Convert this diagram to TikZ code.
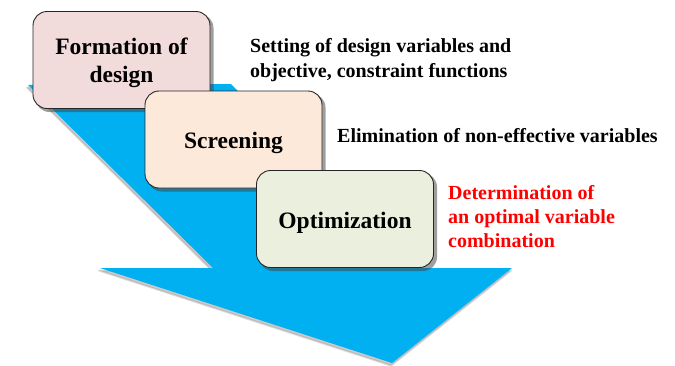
\documentclass[tikz,border=0pt]{standalone}
\usepackage{fontspec}
\setmainfont{LiberationSerif}[Extension=.ttf, UprightFont=*-Regular, BoldFont=*-Bold, ItalicFont=*-Italic, BoldItalicFont=*-BoldItalic]
\definecolor{arrowblue}{RGB}{0,176,240}
\definecolor{fillA}{RGB}{242,220,219}
\definecolor{fillB}{RGB}{253,233,217}
\definecolor{fillC}{RGB}{235,239,222}
\definecolor{notered}{RGB}{255,0,0}
\newcommand\myarrowpoly{(28,85) -- (231,84) -- (415,268) -- (512,268) -- (392,363) -- (100,268) -- (213,268) -- cycle}
\tikzset{
  stagebox/.style={rectangle, rounded corners=14pt, draw=black!85, line width=0.9pt,
    minimum width=177pt, minimum height=97pt, inner sep=0pt},
  boxshadow/.style={rectangle, rounded corners=14pt, fill=black!75, opacity=0.5, draw=none,
    minimum width=178pt, minimum height=98pt, inner sep=0pt},
  boxtext/.style={font=\fontsize{23.5}{28}\selectfont\bfseries, anchor=base, inner sep=0pt},
  notetext/.style={font=\fontsize{20}{24}\selectfont\bfseries, anchor=base west, inner sep=0pt},
}
\begin{document}
\begin{tikzpicture}[x=1pt,y=-1pt]
\useasboundingbox[fill=white] (0,0) rectangle (675,365);
% arrow shadow
\fill[black!40, opacity=0.5, xshift=-1pt, yshift=-2.5pt] \myarrowpoly;
\draw[black!40, opacity=0.35, line width=2pt, line join=round, xshift=-1pt, yshift=-2.5pt] \myarrowpoly;
% arrow
\fill[arrowblue] \myarrowpoly;
% box 1
\node[boxshadow] (s1) at (124.5,63) {};
\node[stagebox, fill=fillA] (b1) at (121.5,60) {};
\node[boxtext] (t1a) at (121.5,54) {Formation of};
\node[boxtext] (t1b) at (121.5,82) {design};
% box 2
\node[boxshadow] (s2) at (236.5,142.5) {};
\node[stagebox, fill=fillB] (b2) at (233.5,139.5) {};
\node[boxtext] (t2) at (233.5,148) {Screening};
% box 3
\node[boxshadow] (s3) at (348,222) {};
\node[stagebox, fill=fillC] (b3) at (345,219) {};
\node[boxtext] (t3) at (345,228) {Optimization};
% notes
\node[notetext] (n1a) at (250,52) {Setting of design variables and};
\node[notetext] (n1b) at (250,77) {objective, constraint functions};
\node[notetext] (n2) at (337,142) {Elimination of non-effective variables};
\node[notetext, text=notered] (n3a) at (448,199) {Determination of};
\node[notetext, text=notered] (n3b) at (448,223) {an optimal variable};
\node[notetext, text=notered] (n3c) at (448,247) {combination};
\end{tikzpicture}
\end{document}
